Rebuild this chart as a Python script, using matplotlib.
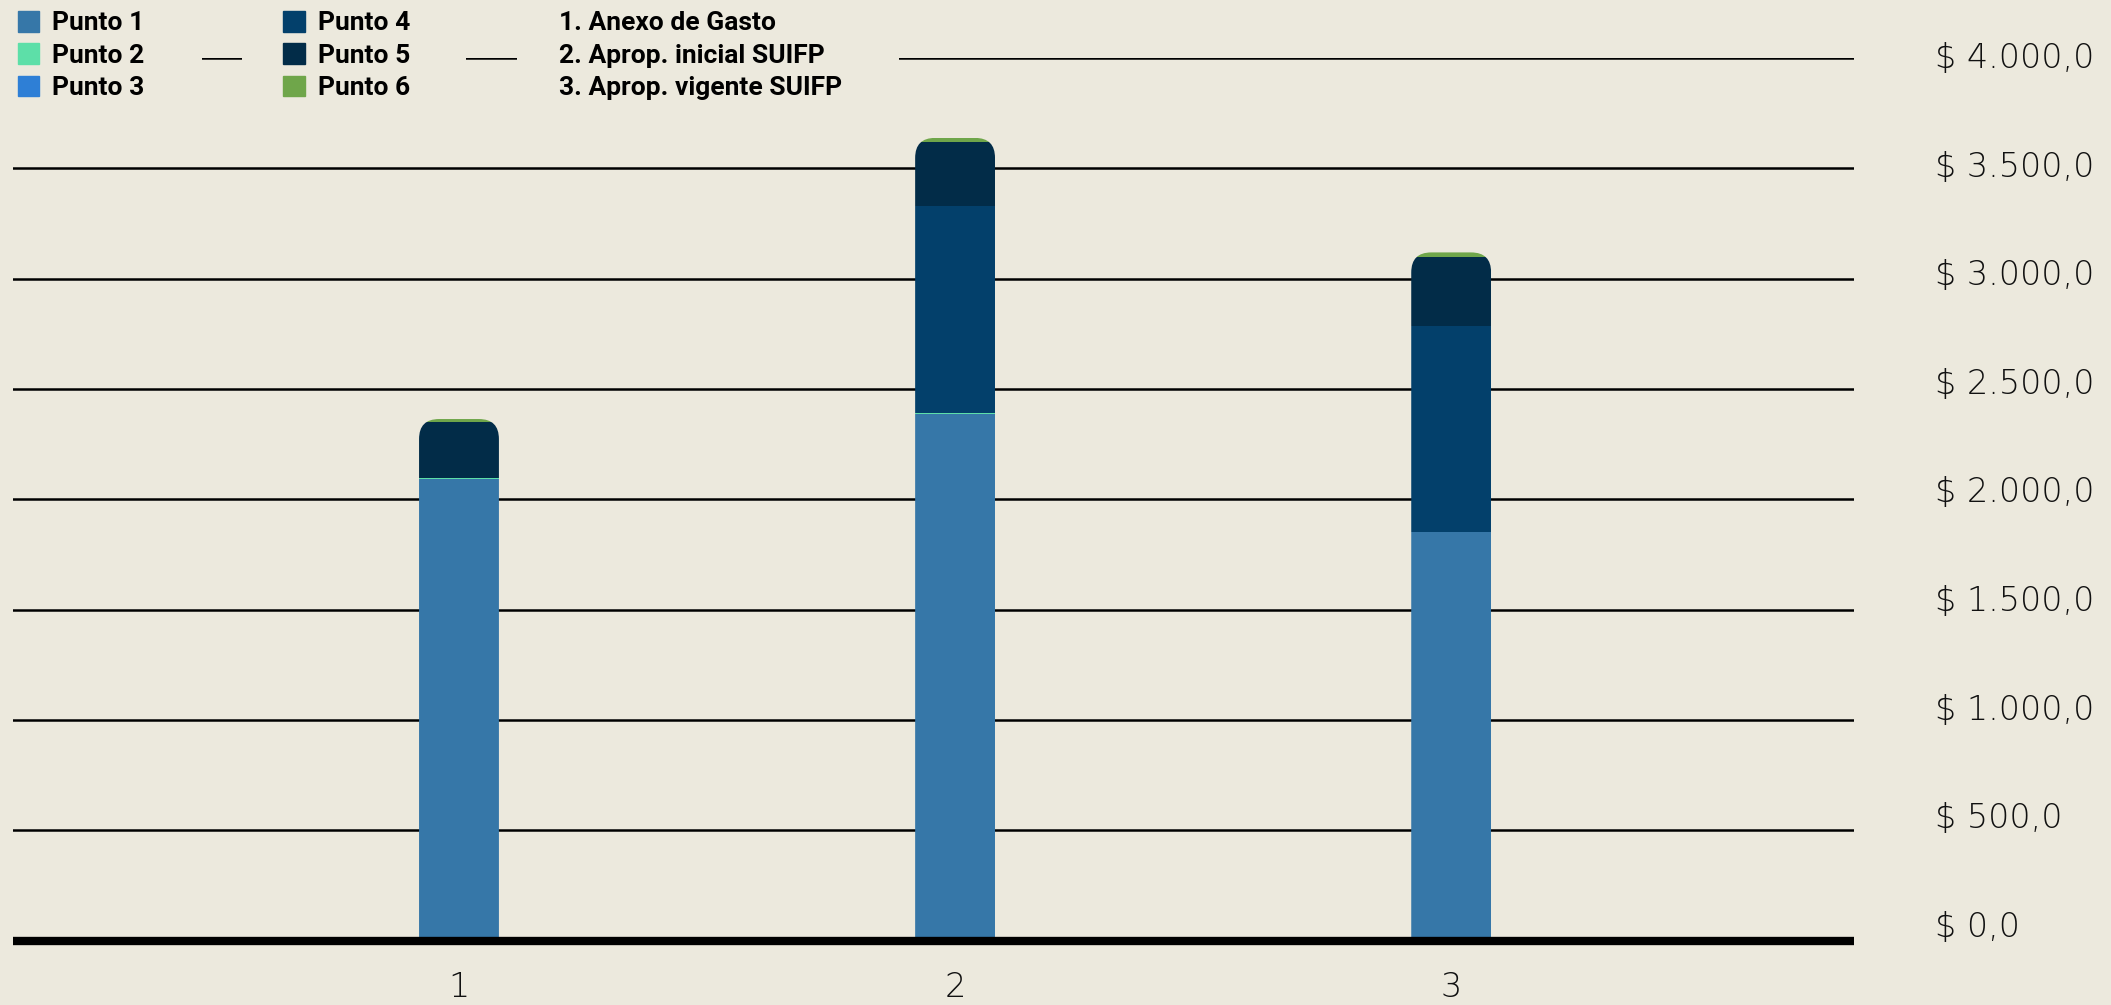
import numpy as np
import matplotlib
matplotlib.use("Agg")
import matplotlib.pyplot as plt
from matplotlib.patches import Patch, Rectangle, FancyBboxPatch
from matplotlib.transforms import ScaledTranslation

# data
categorias = ["1", "2", "3"]
punto1 = [2092, 2388, 1852]
punto2 = [5, 5, 0]
punto3 = [0, 0, 0]
punto4 = [0, 936, 935]
punto5 = [255, 291, 312]
punto6 = [12, 18, 20]
series = [punto1, punto2, punto3, punto4, punto5, punto6]
nombres = ["Punto 1", "Punto 2", "Punto 3", "Punto 4", "Punto 5", "Punto 6"]
colores = ["#3677a8", "#5ddfa8", "#2e7fd6", "#03406b", "#022c48", "#6fa64a"]
etiquetas_x = ["1. Anexo de Gasto", "2. Aprop. inicial SUIFP", "3. Aprop. vigente SUIFP"]
yticks = [0, 500, 1000, 1500, 2000, 2500, 3000, 3500, 4000]

bg = "#ece9dd"
W, H = 2111, 1005
fig = plt.figure(figsize=(W / 100, H / 100), dpi=100, facecolor=bg)
ax = fig.add_axes([13 / W, 1 - 940.7 / H, (1854 - 13) / W, (940.7 - 58) / H])
ax.set_facecolor(bg)

x = np.arange(1, len(categorias) + 1)
ancho = 0.161
ax.set_xlim(0.101, 3.812)
ax.set_ylim(0, 4000)

# rounded top for each stacked bar (radius ~20px)
px_x = (3.812 - 0.101) / (1854 - 13)
px_y = 4000 / (940.7 - 58)
r = 20
totales = np.sum(series, axis=0)
clips = []
for i in range(len(x)):
    clip = FancyBboxPatch((x[i] - ancho / 2, -600), ancho, totales[i] + 600,
                          boxstyle="round,pad=0,rounding_size=%f" % (r * px_x),
                          mutation_aspect=px_y / px_x, transform=ax.transData,
                          facecolor="none", edgecolor="none")
    ax.add_patch(clip)
    clips.append(clip)

base = np.zeros(len(x))
for vals, col in zip(series, colores):
    barras = ax.bar(x, vals, ancho, bottom=base, color=col, linewidth=0, zorder=3)
    for b, c in zip(barras, clips):
        b.set_clip_path(c)
    base = base + np.array(vals)

ax.set_yticks(yticks)
ax.yaxis.grid(True, color="black", linewidth=1.8, zorder=1)
ax.axhline(0, color="black", linewidth=6, zorder=4, clip_on=False, solid_capstyle="butt")
ax.set_axisbelow(True)
for s in ax.spines.values():
    s.set_visible(False)

etiqueta = {"family": ["DejaVu Sans"], "weight": "light", "size": 24}
ax.yaxis.tick_right()
ax.set_yticklabels(["$ " + f"{v:,.1f}".replace(",", "X").replace(".", ",").replace("X", ".") for v in yticks],
                   fontdict=etiqueta, color="#111111")
ax.tick_params(axis="y", length=0, pad=58)
# labels sit a little above their gridlines, more so near the bottom
for v, lab in zip(yticks, ax.get_yticklabels()):
    dy = 17 - 14 * v / 4000
    lab.set_transform(lab.get_transform() + ScaledTranslation(0, dy / 100, fig.dpi_scale_trans))
ax.set_xticks(x)
ax.set_xticklabels(categorias, fontdict=etiqueta, color="#111111")
ax.tick_params(axis="x", length=0, pad=22)

# background pieces behind the legend columns (hide the top gridline there)
for x0, x1 in [(0, 202), (242, 466), (517, 899)]:
    fig.patches.append(Rectangle((x0 / W, 1 - 110 / H), (x1 - x0) / W, 105 / H,
                                 transform=fig.transFigure, facecolor=bg, edgecolor="none", zorder=2))

fuente = {"family": ["Roboto", "DejaVu Sans"], "weight": "bold", "size": 19}
kw = dict(loc="upper left", frameon=False, prop=fuente, handlelength=0.82, handleheight=0.82,
          handletextpad=0.5, labelspacing=0.3, borderpad=0, borderaxespad=0)
h1 = [Patch(color=c) for c in colores[:3]]
h2 = [Patch(color=c) for c in colores[3:]]
fig.legend(h1, nombres[:3], bbox_to_anchor=(17.5 / W, 1 - 11 / H), **kw)
fig.legend(h2, nombres[3:], bbox_to_anchor=(283 / W, 1 - 11 / H), **kw)
kw3 = dict(kw)
kw3.update(handlelength=0, handletextpad=0)
fig.legend([Patch(visible=False)] * 3, etiquetas_x, bbox_to_anchor=(559 / W, 1 - 11 / H), **kw3)

fig.savefig("out.png", dpi=100, facecolor=bg)
